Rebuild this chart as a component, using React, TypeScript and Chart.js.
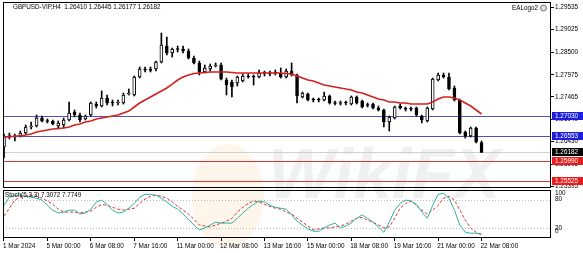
import React, { useEffect, useRef } from 'react';
import { Chart, registerables } from 'chart.js';

Chart.register(...registerables);

const W = 583;
const H = 253;
const FONT = '"Liberation Sans", Arial, sans-serif';

const symbolName = 'GBPUSD-VIP,H4';
const indicatorName = 'Stoch(5,3,3)';
const eaName = 'EALogo2';
const watermarkText = 'WikiFX';

const timeTickBars = [0, 8, 16, 24, 32, 40, 48, 56, 64, 72, 80, 88];
const timeLabels = [
  '1 Mar 2024', '5 Mar 00:00', '6 Mar 08:00', '7 Mar 16:00', '11 Mar 00:00', '12 Mar 08:00',
  '13 Mar 16:00', '15 Mar 00:00', '18 Mar 08:00', '19 Mar 16:00', '21 Mar 00:00', '22 Mar 08:00',
];

const opens = [
  1.26305, 1.26548, 1.26537, 1.26560, 1.26629, 1.26768, 1.26791, 1.26976, 1.26918, 1.26907,
  1.26791, 1.26814, 1.26930, 1.27115, 1.27046, 1.26953, 1.27046, 1.27300, 1.27254, 1.27439,
  1.27324, 1.27324, 1.27324, 1.27532, 1.27509, 1.27926, 1.28088, 1.28088, 1.28111, 1.28273,
  1.28643, 1.28481, 1.28574, 1.28574, 1.28527, 1.28365, 1.28250, 1.28041, 1.28111, 1.28180,
  1.28203, 1.27856, 1.27810, 1.27787, 1.27833, 1.27949, 1.27926, 1.27926, 1.28018, 1.28018,
  1.28018, 1.28018, 1.27926, 1.28064, 1.27972, 1.27462, 1.27532, 1.27393, 1.27400, 1.27393,
  1.27486, 1.27324, 1.27312, 1.27330, 1.27300, 1.27462, 1.27370, 1.27266, 1.27300, 1.27208,
  1.27162, 1.26884, 1.26976, 1.27254, 1.27190, 1.27180, 1.27208, 1.27023, 1.26907, 1.27185,
  1.27856, 1.27972, 1.27926, 1.27671, 1.27393, 1.26652, 1.26560, 1.26745, 1.26410,
];
const highs = [
  1.26606, 1.26629, 1.26606, 1.26675, 1.26814, 1.26884, 1.27046, 1.27023, 1.26953, 1.26930,
  1.26907, 1.26976, 1.27347, 1.27162, 1.27092, 1.27046, 1.27347, 1.27347, 1.27601, 1.27509,
  1.27393, 1.27393, 1.27555, 1.27648, 1.27949, 1.28157, 1.28157, 1.28157, 1.28296, 1.28944,
  1.28851, 1.28597, 1.28643, 1.28643, 1.28574, 1.28412, 1.28296, 1.28203, 1.28226, 1.28250,
  1.28250, 1.27902, 1.27856, 1.27949, 1.27995, 1.27995, 1.27972, 1.28088, 1.28064, 1.28064,
  1.28088, 1.28134, 1.28111, 1.28250, 1.27995, 1.27578, 1.27555, 1.27439, 1.27439, 1.27578,
  1.27509, 1.27370, 1.27370, 1.27370, 1.27486, 1.27486, 1.27393, 1.27324, 1.27324, 1.27254,
  1.27185, 1.27023, 1.27254, 1.27300, 1.27231, 1.27231, 1.27231, 1.27046, 1.27231, 1.27902,
  1.28018, 1.28018, 1.28018, 1.27717, 1.27416, 1.26675, 1.26768, 1.26768, 1.26445,
];
const lows = [
  1.26050, 1.26490, 1.26444, 1.26537, 1.26606, 1.26722, 1.26768, 1.26884, 1.26861, 1.26814,
  1.26722, 1.26745, 1.26907, 1.27000, 1.26884, 1.26930, 1.27023, 1.27208, 1.27231, 1.27277,
  1.27254, 1.27277, 1.27300, 1.27509, 1.27486, 1.27902, 1.28041, 1.28041, 1.28064, 1.28250,
  1.28435, 1.28388, 1.28504, 1.28481, 1.28342, 1.28226, 1.27972, 1.28018, 1.28064, 1.28157,
  1.27856, 1.27509, 1.27462, 1.27717, 1.27810, 1.27902, 1.27740, 1.27902, 1.27949, 1.27949,
  1.27972, 1.27902, 1.27902, 1.27949, 1.27324, 1.27439, 1.27370, 1.27347, 1.27347, 1.27370,
  1.27300, 1.27277, 1.27277, 1.27277, 1.27277, 1.27300, 1.27208, 1.27231, 1.27185, 1.27138,
  1.26768, 1.26675, 1.26953, 1.27185, 1.27138, 1.27138, 1.27023, 1.26861, 1.26884, 1.27162,
  1.27833, 1.27902, 1.27625, 1.27370, 1.26606, 1.26513, 1.26537, 1.26398, 1.26177,
];
const closes = [
  1.26560, 1.26571, 1.26560, 1.26629, 1.26768, 1.26791, 1.26976, 1.26907, 1.26895, 1.26837,
  1.26861, 1.26930, 1.27092, 1.27046, 1.26930, 1.27023, 1.27324, 1.27254, 1.27439, 1.27324,
  1.27335, 1.27347, 1.27509, 1.27555, 1.27926, 1.28111, 1.28099, 1.28080, 1.28273, 1.28666,
  1.28481, 1.28574, 1.28562, 1.28527, 1.28365, 1.28250, 1.28041, 1.28134, 1.28180, 1.28203,
  1.27879, 1.27740, 1.27694, 1.27926, 1.27949, 1.27926, 1.27920, 1.28018, 1.28012, 1.27995,
  1.28030, 1.27926, 1.28064, 1.27972, 1.27486, 1.27555, 1.27393, 1.27400, 1.27393, 1.27486,
  1.27324, 1.27312, 1.27330, 1.27324, 1.27462, 1.27324, 1.27231, 1.27277, 1.27208, 1.27162,
  1.26884, 1.27000, 1.27231, 1.27208, 1.27180, 1.27195, 1.27046, 1.26930, 1.27208, 1.27879,
  1.27972, 1.27926, 1.27648, 1.27393, 1.26629, 1.26560, 1.26745, 1.26421, 1.26182,
];
const maValues = [
  1.26537, 1.26537, 1.26560, 1.26560, 1.26583, 1.26606, 1.26652, 1.26675, 1.26699, 1.26722,
  1.26733, 1.26745, 1.26768, 1.26814, 1.26837, 1.26884, 1.26907, 1.26953, 1.26976, 1.27000,
  1.27023, 1.27046, 1.27092, 1.27138, 1.27231, 1.27324, 1.27393, 1.27462, 1.27532, 1.27601,
  1.27671, 1.27763, 1.27856, 1.27926, 1.27972, 1.28006, 1.28018, 1.28030, 1.28041, 1.28041,
  1.28041, 1.28041, 1.28030, 1.28018, 1.28018, 1.28018, 1.28018, 1.28018, 1.28018, 1.28018,
  1.28018, 1.28018, 1.28006, 1.27995, 1.27949, 1.27902, 1.27856, 1.27833, 1.27787, 1.27740,
  1.27717, 1.27694, 1.27671, 1.27648, 1.27625, 1.27578, 1.27555, 1.27509, 1.27462, 1.27416,
  1.27393, 1.27347, 1.27347, 1.27324, 1.27324, 1.27300, 1.27300, 1.27300, 1.27300, 1.27347,
  1.27416, 1.27462, 1.27462, 1.27439, 1.27393, 1.27324, 1.27254, 1.27162, 1.27069,
];
const stochMain = [
  68, 85, 89, 89, 87, 85, 83, 79, 68, 58,
  52, 54, 58, 58, 50, 52, 60, 75, 79, 70,
  58, 52, 54, 62, 72, 85, 91, 91, 89, 83,
  75, 66, 60, 50, 39, 27, 17, 21, 27, 33,
  31, 31, 31, 41, 52, 62, 70, 77, 75, 68,
  64, 62, 60, 48, 35, 27, 19, 14, 14, 21,
  27, 31, 21, 25, 31, 41, 48, 41, 33, 23,
  12, 33, 58, 72, 79, 77, 70, 54, 41, 68,
  91, 93, 83, 58, 27, 12, 10, 10, 7.3072,
];
const stochSignal = [
  46, 62, 79, 85, 87, 89, 87, 83, 77, 70,
  60, 54, 54, 54, 52, 54, 56, 64, 70, 68,
  64, 60, 58, 60, 62, 72, 81, 87, 89, 87,
  83, 75, 66, 58, 50, 39, 27, 25, 23, 27,
  31, 35, 41, 54, 64, 72, 77, 75, 70, 66,
  62, 60, 54, 50, 41, 33, 25, 17, 19, 21,
  21, 23, 25, 29, 35, 41, 43, 37, 33, 27,
  21, 23, 41, 62, 72, 77, 68, 58, 50, 58,
  68, 83, 87, 79, 58, 37, 21, 12, 7.7749,
];

const priceTicks = [1.29535, 1.29025, 1.285, 1.27975, 1.27465, 1.2694, 1.2643, 1.25905, 1.25395];
const levelPrices = [1.2703, 1.26553, 1.26182, 1.2599, 1.25525];
const levelKinds = ['blue', 'blue', 'bid', 'red', 'red'];
const stochLevels = [80, 20];
const stochScaleLabels = [100, 80, 20, 0];

const PRICE_MIN = 1.25356;
const PRICE_MAX = 1.29662;
const X_MIN = -0.184;
const X_MAX = 100.8;

const LEVEL_STYLE: Record<string, { line: string; box: string }> = {
  blue: { line: '#5252bc', box: '#1d1de0' },
  bid: { line: '#cfcfcf', box: '#000000' },
  red: { line: '#d23a3a', box: '#e81c1c' },
};

const mainPlugin = {
  id: 'mainDecor',
  beforeDatasetsDraw(chart: any) {
    const { ctx, chartArea: a, scales } = chart;
    const y = scales.y;
    ctx.save();
    // watermark logo + text
    ctx.fillStyle = 'rgba(245, 175, 90, 0.12)';
    ctx.beginPath();
    ctx.ellipse(228, 196, 36, 52, 0, 0, Math.PI * 2);
    ctx.fill();
    ctx.fillStyle = 'rgba(0, 0, 0, 0.06)';
    ctx.font = `bold italic 70px ${FONT}`;
    ctx.textBaseline = 'alphabetic';
    ctx.textAlign = 'left';
    ctx.fillText(watermarkText, 268, 198);
    // horizontal level lines
    ctx.beginPath();
    ctx.rect(a.left, a.top, a.right - a.left, a.bottom - a.top);
    ctx.clip();
    levelPrices.forEach((v, i) => {
      const py = Math.round(y.getPixelForValue(v)) + 0.5;
      ctx.strokeStyle = LEVEL_STYLE[levelKinds[i]].line;
      ctx.lineWidth = 1;
      ctx.beginPath();
      ctx.moveTo(a.left, py);
      ctx.lineTo(a.right, py);
      ctx.stroke();
    });
    ctx.restore();
  },
  afterDraw(chart: any) {
    const { ctx, chartArea: a, scales } = chart;
    const y = scales.y;
    ctx.save();
    ctx.strokeStyle = '#000';
    ctx.lineWidth = 1;
    ctx.strokeRect(a.left + 0.5, a.top + 0.5, a.right - a.left - 1, a.bottom - a.top - 1);
    // price boxes
    ctx.font = `6.4px ${FONT}`;
    ctx.textBaseline = 'middle';
    ctx.textAlign = 'left';
    levelPrices.forEach((v, i) => {
      const cy = Math.round(y.getPixelForValue(v));
      ctx.fillStyle = LEVEL_STYLE[levelKinds[i]].box;
      ctx.fillRect(a.right + 1, cy - 4, W - a.right - 1, 8);
      ctx.fillStyle = '#fff';
      ctx.fillText(v.toFixed(5), a.right + 4, cy + 0.5);
    });
    // header
    const last = opens.length - 1;
    ctx.fillStyle = '#000';
    ctx.font = `6.3px ${FONT}`;
    ctx.fillText(
      `${symbolName}  ${opens[last].toFixed(5)} ${highs[last].toFixed(5)} ${lows[last].toFixed(5)} ${closes[last].toFixed(5)}`,
      a.left + 10, a.top + 5.5,
    );
    ctx.textAlign = 'right';
    ctx.fillText(eaName, a.right - 13, a.top + 6);
    ctx.strokeStyle = '#777';
    ctx.fillStyle = '#ddd';
    ctx.beginPath();
    ctx.arc(a.right - 7.5, a.top + 6, 3, 0, Math.PI * 2);
    ctx.fill();
    ctx.stroke();
    ctx.restore();
  },
};

const stochPlugin = {
  id: 'stochDecor',
  beforeDatasetsDraw(chart: any) {
    const { ctx, chartArea: a, scales } = chart;
    ctx.save();
    ctx.strokeStyle = '#b8b8b8';
    ctx.lineWidth = 1;
    ctx.setLineDash([1, 2]);
    stochLevels.forEach((v) => {
      const py = Math.round(scales.y.getPixelForValue(v)) + 0.5;
      ctx.beginPath();
      ctx.moveTo(a.left, py);
      ctx.lineTo(a.right, py);
      ctx.stroke();
    });
    ctx.restore();
  },
  afterDraw(chart: any) {
    const { ctx, chartArea: a, scales } = chart;
    ctx.save();
    ctx.strokeStyle = '#000';
    ctx.lineWidth = 1;
    ctx.strokeRect(a.left + 0.5, a.top + 0.5, a.right - a.left - 1, a.bottom - a.top - 1);
    ctx.fillStyle = '#000';
    ctx.font = `6.4px ${FONT}`;
    ctx.textAlign = 'left';
    ctx.textBaseline = 'middle';
    stochScaleLabels.forEach((v) => {
      let py = scales.y.getPixelForValue(v);
      if (v === 100) py += 3.5;
      else if (v === 0) py -= 6.5;
      else py -= 0.5;
      ctx.fillText(String(v), a.right + 4, py);
    });
    const last = stochMain.length - 1;
    ctx.font = `6.3px ${FONT}`;
    ctx.fillText(
      `${indicatorName} ${stochMain[last].toFixed(4)} ${stochSignal[last].toFixed(4)}`,
      a.left + 2, a.top + 5,
    );
    ctx.restore();
  },
};

export default function App() {
  const mainRef = useRef<HTMLCanvasElement>(null);
  const stochRef = useRef<HTMLCanvasElement>(null);

  useEffect(() => {
    const idx = opens.map((_, i) => i);
    const bodies = idx.map((i) => ({ x: i, y: [opens[i], closes[i]] }));
    const wicks = idx.map((i) => ({ x: i, y: [lows[i], highs[i]] }));
    const maPts = idx.map((i) => ({ x: i, y: maValues[i] }));

    const main = new Chart(mainRef.current as HTMLCanvasElement, {
      type: 'bar',
      data: {
        datasets: [
          {
            type: 'line',
            data: maPts,
            borderColor: '#d42020',
            borderWidth: 1.6,
            pointRadius: 0,
            tension: 0,
            order: 0,
          } as any,
          {
            type: 'bar',
            data: bodies as any,
            barThickness: 3,
            borderWidth: 1,
            borderColor: '#000',
            borderSkipped: false,
            minBarLength: 1,
            grouped: false,
            backgroundColor: (c: any) => {
              const i = c.dataIndex;
              return closes[i] - opens[i] > 0.00015 ? '#ffffff' : '#000000';
            },
            order: 1,
          } as any,
          {
            type: 'bar',
            data: wicks as any,
            barThickness: 1,
            borderWidth: 0,
            grouped: false,
            backgroundColor: '#000',
            order: 2,
          } as any,
        ],
      },
      options: {
        responsive: false,
        animation: false,
        devicePixelRatio: 1,
        layout: { padding: { left: 3, top: 2, right: 0, bottom: 65 } },
        plugins: { legend: { display: false }, tooltip: { enabled: false } },
        scales: {
          x: { type: 'linear', min: X_MIN, max: X_MAX, offset: false, display: false },
          y: {
            type: 'linear',
            position: 'right',
            min: PRICE_MIN,
            max: PRICE_MAX,
            bounds: 'data',
            afterBuildTicks: (s: any) => {
              s.ticks = priceTicks.map((v) => ({ value: v }));
            },
            afterFit: (s: any) => {
              s.width = 32;
              s.paddingTop = 0;
              s.paddingBottom = 0;
            },
            ticks: {
              autoSkip: false,
              padding: 1,
              color: '#000',
              font: { family: FONT, size: 6.4 },
              callback: (v: any) => Number(v).toFixed(5),
            },
            grid: { drawOnChartArea: false, tickLength: 3, color: '#000' },
            border: { display: false },
          },
        },
      } as any,
      plugins: [mainPlugin],
    });

    const stoch = new Chart(stochRef.current as HTMLCanvasElement, {
      type: 'line',
      data: {
        datasets: [
          {
            data: idx.map((i) => ({ x: i, y: stochMain[i] })),
            borderColor: '#2ab3a3',
            borderWidth: 1,
            pointRadius: 0,
            tension: 0,
          },
          {
            data: idx.map((i) => ({ x: i, y: stochSignal[i] })),
            borderColor: '#e03030',
            borderWidth: 1,
            borderDash: [3, 2],
            pointRadius: 0,
            tension: 0,
          },
        ],
      },
      options: {
        responsive: false,
        animation: false,
        devicePixelRatio: 1,
        layout: { padding: { left: 3, top: 190, right: 0, bottom: 0 } },
        plugins: { legend: { display: false }, tooltip: { enabled: false } },
        scales: {
          x: {
            type: 'linear',
            min: X_MIN,
            max: X_MAX,
            offset: false,
            position: 'bottom',
            afterBuildTicks: (s: any) => {
              s.ticks = timeTickBars.map((v) => ({ value: v }));
            },
            afterFit: (s: any) => {
              s.height = 15;
              s.paddingLeft = 0;
              s.paddingRight = 0;
            },
            ticks: {
              autoSkip: false,
              maxRotation: 0,
              minRotation: 0,
              align: 'start',
              labelOffset: -1,
              padding: 1,
              color: '#000',
              font: { family: FONT, size: 6.4 },
              callback: (v: any) => {
                const k = timeTickBars.indexOf(Number(v));
                return k >= 0 ? timeLabels[k] : '';
              },
            },
            grid: { drawOnChartArea: false, tickLength: 3, color: '#000' },
            border: { display: false },
          },
          y: {
            type: 'linear',
            position: 'right',
            min: 0,
            max: 100,
            afterFit: (s: any) => {
              s.width = 32;
              s.paddingTop = 0;
              s.paddingBottom = 0;
            },
            ticks: { display: false },
            grid: { display: false },
            border: { display: false },
          },
        },
      } as any,
      plugins: [stochPlugin],
    });

    return () => {
      main.destroy();
      stoch.destroy();
    };
  }, []);

  const canvasStyle: React.CSSProperties = { position: 'absolute', left: 0, top: 0, width: W, height: H };
  return (
    <div style={{ position: 'absolute', left: 0, top: 0, width: W, height: H, background: '#fff' }}>
      <canvas ref={mainRef} width={W} height={H} style={canvasStyle} />
      <canvas ref={stochRef} width={W} height={H} style={canvasStyle} />
    </div>
  );
}
